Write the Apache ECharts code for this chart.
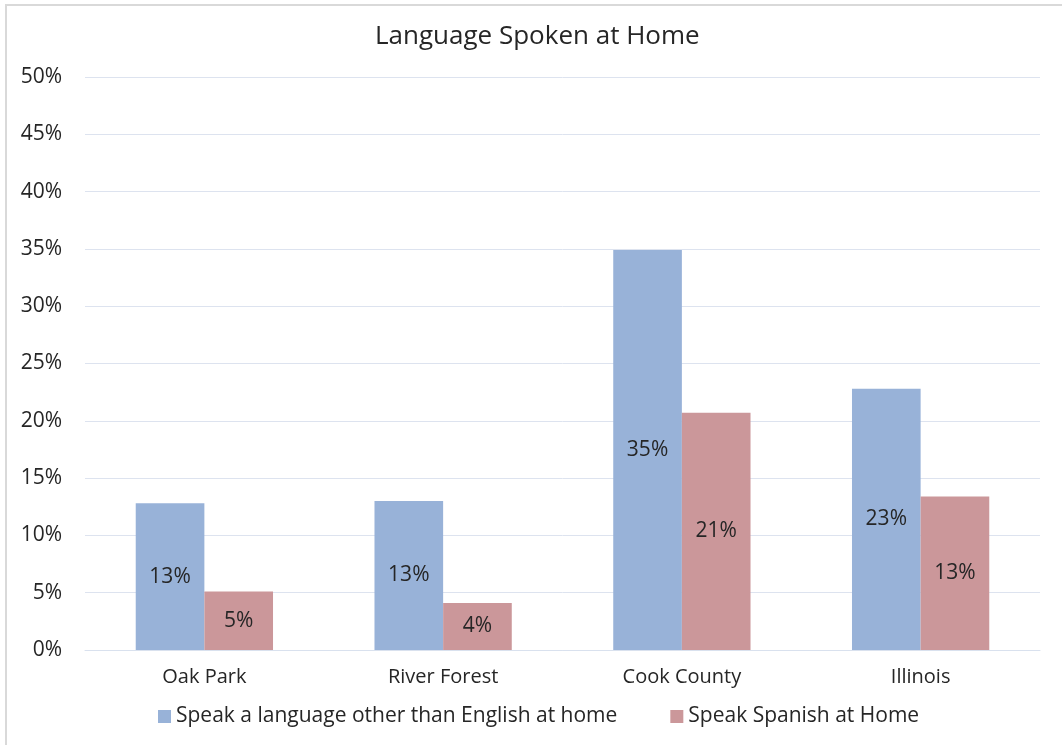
<!DOCTYPE html>
<html>
<head>
<meta charset="utf-8">
<style>
  html, body { margin: 0; padding: 0; background: #ffffff; }
  #chart { width: 1062px; height: 745px; }
</style>
<script src="https://cdn.jsdelivr.net/npm/echarts@6/dist/echarts.min.js"></script>
</head>
<body>
<div id="chart"></div>
<script>
// Share of residents by language spoken at home (percent)
const categories = ['Oak Park', 'River Forest', 'Cook County', 'Illinois'];
const seriesNames = ['Speak a language other than English at home', 'Speak Spanish at Home'];
const otherThanEnglish = [12.8, 13.0, 34.9, 22.8];
const spanish = [5.1, 4.1, 20.7, 13.4];
const yTicks = { min: 0, max: 50, interval: 5 };

const FONT = 'Open Sans';
const TEXT = '#262626';

const chart = echarts.init(document.getElementById('chart'));

const labelStyle = {
  show: true,
  position: 'inside',
  color: TEXT,
  fontFamily: FONT,
  fontSize: 21,
  formatter: p => Math.round(p.value) + '%'
};

chart.setOption({
  animation: false,
  backgroundColor: '#ffffff',
  textStyle: { fontFamily: FONT },
  graphic: [{
    type: 'rect',
    shape: { x: 6, y: 5, width: 1100, height: 800 },
    style: { fill: 'none', stroke: '#d9d9d9', lineWidth: 2 },
    silent: true
  }],
  title: {
    text: 'Language Spoken at Home',
    left: 370,
    top: 19,
    textStyle: { fontFamily: FONT, fontSize: 26, fontWeight: 'normal', color: TEXT }
  },
  legend: {
    bottom: 13,
    left: 153,
    itemWidth: 13,
    itemHeight: 13,
    itemGap: 53,
    icon: 'rect',
    textStyle: { fontFamily: FONT, fontSize: 21, color: TEXT },
    data: seriesNames
  },
  grid: { left: 85, right: 22, top: 77, bottom: 95, containLabel: false },
  xAxis: {
    type: 'category',
    data: categories,
    axisLine: { show: true, lineStyle: { color: '#d9e1ee', width: 1 } },
    axisTick: { show: false },
    axisLabel: { color: TEXT, fontFamily: FONT, fontSize: 20, margin: 17 }
  },
  yAxis: {
    type: 'value',
    min: yTicks.min,
    max: yTicks.max,
    interval: yTicks.interval,
    axisLine: { show: false },
    axisTick: { show: false },
    splitLine: { lineStyle: { color: '#dde3ef', width: 1 } },
    axisLabel: { color: TEXT, fontFamily: FONT, fontSize: 21, margin: 23, formatter: v => v + '%' }
  },
  series: [
    {
      name: seriesNames[0],
      type: 'bar',
      data: otherThanEnglish,
      itemStyle: { color: '#98b2d8' },
      barGap: '0%',
      barCategoryGap: '42.5%',
      label: labelStyle
    },
    {
      name: seriesNames[1],
      type: 'bar',
      data: spanish,
      itemStyle: { color: '#cb979a' },
      barGap: '0%',
      barCategoryGap: '42.5%',
      label: labelStyle
    }
  ]
});
</script>
</body>
</html>
